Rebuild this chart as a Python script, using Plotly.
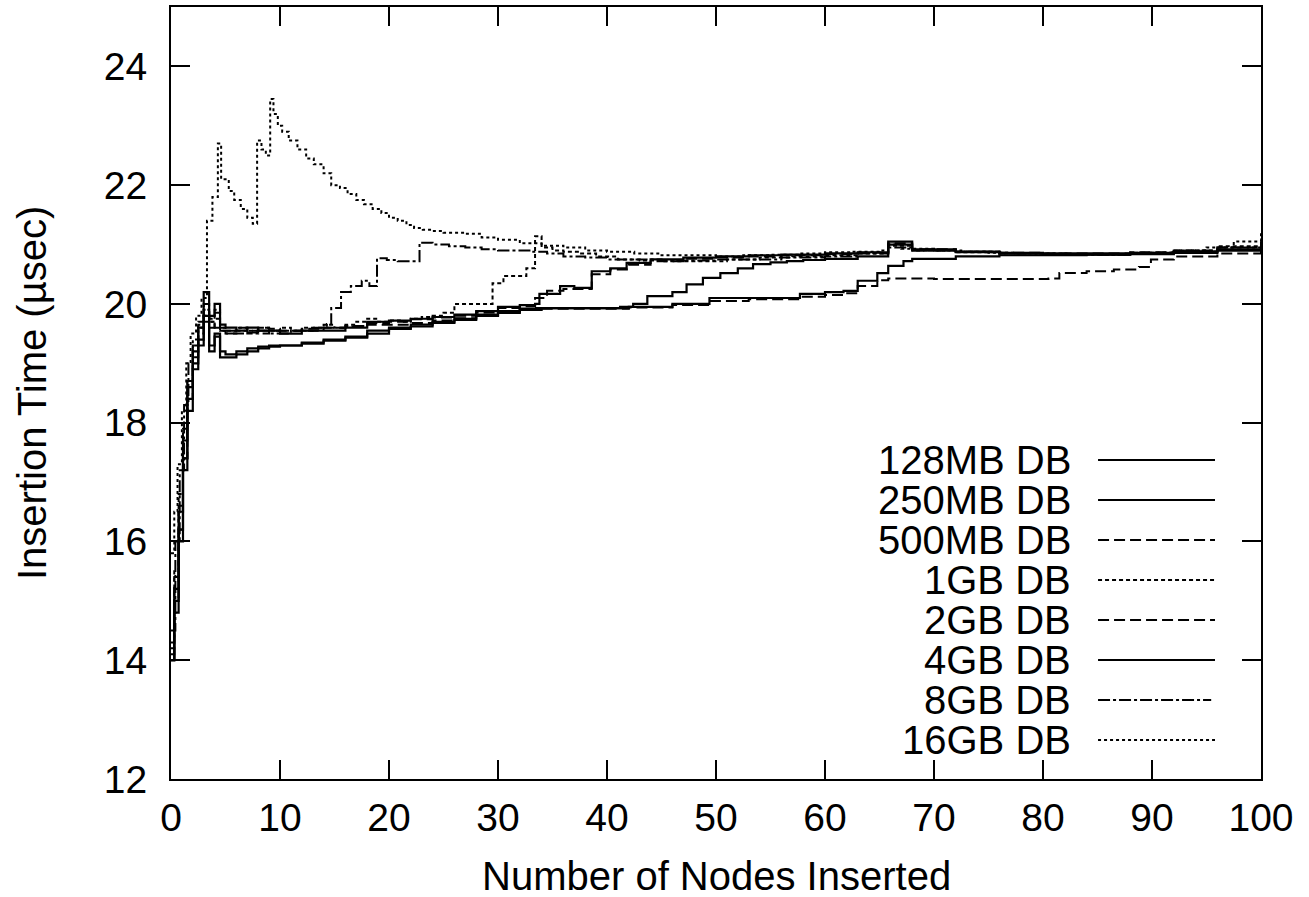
import plotly.graph_objects as go

# ---------------- data ----------------
series_names = ["128MB DB", "250MB DB", "500MB DB", "1GB DB",
                "2GB DB", "4GB DB", "8GB DB", "16GB DB"]

x_128mb = [0, 0.3, 0.7, 1.1, 1.5, 2, 2.5, 3, 3.5, 4, 4.5, 5, 6, 7, 8, 9, 10, 12, 14, 16, 18, 20,
           22, 24, 26, 28, 30, 32, 34, 38, 42, 46, 49.4, 53, 57.7, 60, 61.7, 63, 64.8, 65.8, 67.2,
           68, 72, 76, 80, 84, 88, 92, 96, 100]
y_128mb = [14.0, 14.8, 16.0, 17.2, 18.2, 18.9, 19.3, 19.7, 19.2, 19.45, 19.1, 19.1, 19.15, 19.2,
           19.25, 19.28, 19.3, 19.33, 19.38, 19.43, 19.5, 19.58, 19.62, 19.68, 19.73, 19.8, 19.85,
           19.9, 19.93, 19.93, 19.95, 20.0, 20.1, 20.1, 20.17, 20.2, 20.22, 20.39, 20.52, 20.64,
           20.72, 20.76, 20.8, 20.82, 20.82, 20.83, 20.85, 20.88, 20.92, 20.97]

x_250mb = [0, 0.3, 0.7, 1.1, 1.5, 2, 2.5, 3, 3.5, 4, 4.5, 5, 6, 7, 8, 9, 10, 12, 14, 16, 18, 20,
           22, 24, 26, 28, 30, 32, 33.5, 36, 38, 41.2, 42.4, 43.7, 46, 47.3, 48.8, 50.4, 52, 53.4,
           55, 56.5, 58, 60, 63, 65.8, 68, 72, 76, 80, 84, 88, 92, 96, 100]
y_250mb = [14.0, 15.0, 16.2, 17.4, 18.4, 19.0, 19.4, 19.8, 19.3, 19.5, 19.2, 19.15, 19.2, 19.25,
           19.28, 19.3, 19.3, 19.35, 19.4, 19.45, 19.55, 19.6, 19.65, 19.7, 19.75, 19.82, 19.88,
           19.92, 19.93, 19.93, 19.93, 19.95, 20.0, 20.13, 20.2, 20.33, 20.44, 20.52, 20.6, 20.67,
           20.7, 20.72, 20.74, 20.76, 20.8, 21.0, 20.9, 20.87, 20.85, 20.83, 20.83, 20.84, 20.86,
           20.9, 20.95]

x_500mb = [0, 0.3, 0.7, 1.1, 1.5, 2, 2.5, 3, 3.5, 4, 4.5, 5, 6, 7, 8, 9, 10, 12, 14, 16, 18, 20,
           22, 24, 26, 28, 30, 32, 33.4, 34.5, 36, 38.6, 40.3, 42, 44, 47, 50, 53, 56, 60, 63,
           65.8, 68, 72, 76, 80, 84, 88, 92, 96, 100]
y_500mb = [14.3, 15.4, 16.6, 17.8, 18.7, 19.3, 19.65, 20.0, 19.75, 19.85, 19.6, 19.55, 19.6,
           19.55, 19.6, 19.58, 19.55, 19.58, 19.6, 19.63, 19.68, 19.7, 19.74, 19.77, 19.8, 19.86,
           19.93, 19.96, 20.1, 20.22, 20.25, 20.5, 20.58, 20.66, 20.72, 20.76, 20.78, 20.8, 20.82,
           20.84, 20.86, 21.02, 20.92, 20.88, 20.86, 20.85, 20.85, 20.87, 20.9, 20.95, 21.0]

x_1gb = [0, 0.3, 0.7, 1.1, 1.5, 2, 2.5, 3, 3.5, 4, 4.5, 5, 6, 7, 8, 9, 10, 11, 12, 13, 14, 15,
         16, 17, 18, 19, 20, 21, 22, 23, 24, 25, 26, 27.5, 29.5, 30.5, 31.7, 32.6, 33.4, 34, 35,
         36, 37.5, 39, 41, 43, 45, 48, 51, 54, 57, 60, 63, 65.8, 68, 72, 76, 80, 84, 88, 92,
         96, 100]
y_1gb = [14.2, 15.5, 16.8, 17.9, 18.7, 19.3, 19.6, 19.8, 19.7, 19.9, 19.6, 19.55, 19.6, 19.55,
         19.6, 19.55, 19.6, 19.55, 19.6, 19.6, 19.65, 19.6, 19.65, 19.7, 19.75, 19.7, 19.72,
         19.7, 19.75, 19.78, 19.8, 19.85, 20.0, 20.0, 20.35, 20.47, 20.47, 20.6, 21.14, 20.95,
         20.9, 20.88, 20.85, 20.8, 20.75, 20.73, 20.72, 20.72, 20.75, 20.78, 20.8, 20.82, 20.85,
         20.98, 20.9, 20.87, 20.85, 20.83, 20.84, 20.86, 20.9, 20.97, 21.1]

x_2gb = [0, 0.3, 0.7, 1.1, 1.5, 2, 2.5, 3, 3.5, 4, 4.5, 5, 6, 7, 8, 9, 10, 12, 14, 16, 18, 20,
         22, 24, 26, 28, 30, 32, 34, 38, 42, 46, 49.4, 53, 57.7, 60, 61.7, 63, 64.8, 65.8, 70,
         75, 80.5, 81.5, 84, 86.5, 88.8, 89.9, 92, 96, 100]
y_2gb = [14.1, 15.0, 16.2, 17.4, 18.4, 19.1, 19.5, 19.9, 19.6, 19.75, 19.55, 19.5, 19.5, 19.52,
         19.5, 19.55, 19.55, 19.55, 19.6, 19.62, 19.65, 19.65, 19.68, 19.72, 19.76, 19.82, 19.87,
         19.9, 19.92, 19.92, 19.94, 19.98, 20.05, 20.08, 20.12, 20.15, 20.18, 20.3, 20.4, 20.43,
         20.42, 20.42, 20.43, 20.52, 20.55, 20.58, 20.62, 20.75, 20.8, 20.85, 20.93]

x_4gb = [0, 0.3, 0.7, 1.1, 1.5, 2, 2.5, 3, 3.5, 4, 4.5, 5, 6, 7, 8, 9, 10, 12, 14, 16, 18, 20,
         22, 24, 26, 28, 30, 32, 33.4, 33.8, 35.7, 37, 38.6, 40.3, 41.8, 44, 47, 50, 53, 56, 60,
         63, 65.8, 68, 72, 76, 80, 84, 88, 92, 96, 100]
y_4gb = [14.0, 15.2, 16.5, 17.7, 18.6, 19.2, 19.6, 20.2, 19.8, 20.0, 19.65, 19.6, 19.55, 19.6,
         19.55, 19.55, 19.5, 19.55, 19.55, 19.6, 19.7, 19.72, 19.75, 19.78, 19.82, 19.88, 19.95,
         19.98, 20.0, 20.17, 20.3, 20.27, 20.55, 20.6, 20.69, 20.75, 20.78, 20.8, 20.82, 20.83,
         20.85, 20.87, 21.05, 20.92, 20.88, 20.86, 20.85, 20.85, 20.86, 20.88, 20.9, 20.95]

x_8gb = [0, 0.4, 0.8, 1.2, 1.6, 2.0, 2.5, 3.0, 3.5, 4.0, 4.5, 5.0, 6.0, 7.0, 8.0, 9.0, 10.0,
         11.0, 12.0, 13.0, 14.3, 14.7, 15.6, 16.5, 17.5, 18.2, 18.9, 19.8, 20.8, 21.8, 22.8, 24,
         25.5, 27, 28.5, 30, 31.5, 33, 34.5, 36, 38, 40, 42, 45, 48, 50, 53, 56, 60, 63, 65.8,
         68, 72, 76, 80, 84, 88, 92, 96, 100]
y_8gb = [14.5, 16.0, 17.2, 18.3, 19.0, 19.4, 19.7, 19.9, 19.7, 19.6, 19.55, 19.5, 19.55, 19.5,
         19.55, 19.5, 19.5, 19.55, 19.55, 19.6, 19.66, 19.93, 20.2, 20.3, 20.39, 20.3, 20.77,
         20.74, 20.72, 20.72, 21.03, 21.0, 20.97, 20.95, 20.92, 20.9, 20.9, 20.88, 20.85, 20.8,
         20.78, 20.75, 20.75, 20.73, 20.73, 20.75, 20.75, 20.78, 20.8, 20.85, 20.95, 20.9, 20.88,
         20.85, 20.83, 20.83, 20.84, 20.88, 20.95, 21.05]

x_16gb = [0, 0.3, 0.6, 1.0, 1.4, 1.8, 2.3, 2.8, 3.3, 3.8, 4.3, 4.6, 5.3, 5.8, 6.4, 7.0, 7.5,
          7.9, 8.3, 8.7, 9.1, 9.4, 9.8, 10.2, 10.8, 11.6, 12.4, 13.1, 14.0, 14.7, 15.5, 16.2,
          17.0, 17.7, 18.5, 19.3, 20.0, 20.8, 21.6, 22.3, 23.1, 23.9, 25.0, 26.9, 28.5, 30.0,
          32.0, 34.0, 36.0, 38.0, 40.0, 42.5, 45.0, 47.5, 50.0, 52.5, 55.0, 57.5, 60.0, 62.5,
          65.0, 65.8, 67.0, 70.0, 72.5, 75.0, 77.5, 80.0, 82.5, 85.0, 87.5, 90.0, 92.5, 95.0,
          97.5, 100]
y_16gb = [15.8, 16.5, 17.3, 18.2, 19.0, 19.5, 19.8, 20.1, 21.4, 21.8, 22.7, 22.1, 21.9, 21.75,
          21.6, 21.45, 21.35, 22.75, 22.6, 22.5, 23.45, 23.2, 23.0, 22.9, 22.75, 22.6, 22.45,
          22.35, 22.2, 22.0, 21.95, 21.85, 21.75, 21.68, 21.6, 21.53, 21.45, 21.4, 21.33, 21.28,
          21.25, 21.23, 21.2, 21.18, 21.12, 21.08, 21.02, 20.98, 20.95, 20.9, 20.88, 20.85,
          20.82, 20.82, 20.8, 20.82, 20.83, 20.85, 20.87, 20.88, 20.9, 21.0, 20.93, 20.9, 20.88,
          20.86, 20.85, 20.85, 20.84, 20.83, 20.84, 20.86, 20.9, 20.95, 21.05, 21.2]

x_tick_vals = [0, 10, 20, 30, 40, 50, 60, 70, 80, 90, 100]
y_tick_vals = [12, 14, 16, 18, 20, 22, 24]

# ---------------- styling ----------------
FONT = "Liberation Sans, Arial, Helvetica, sans-serif"
FS = 40
FS_TICK = 39
dashes = ["solid", "solid", "11px,5px", "4px,3px", "11px,5px", "solid", "12px,3px,3px,3px", "3px,3px"]
widths = [2.2, 2.2, 2, 2, 2, 2.2, 2, 2]

xs = [x_128mb, x_250mb, x_500mb, x_1gb, x_2gb, x_4gb, x_8gb, x_16gb]
ys = [y_128mb, y_250mb, y_500mb, y_1gb, y_2gb, y_4gb, y_8gb, y_16gb]

fig = go.Figure()
for name, xv, yv, d, w in zip(series_names, xs, ys, dashes, widths):
    fig.add_trace(go.Scatter(x=xv, y=yv, mode="lines", name=name, line_shape="hv",
                             line=dict(color="black", width=w, dash=d), showlegend=False))

# manual gnuplot-style key (text right-aligned, sample to the right)
row_y = [0.4132, 0.3614, 0.3096, 0.2578, 0.2060, 0.1541, 0.1023, 0.0505]
for i, name in enumerate(series_names):
    fig.add_annotation(x=0.8275, y=row_y[i], xref="paper", yref="paper", text=name,
                       showarrow=False, xanchor="right", yanchor="middle",
                       font=dict(family=FONT, size=FS, color="black"))
    x_end = 0.9543 if i == 6 else 0.9578
    fig.add_shape(type="line", xref="paper", yref="paper", x0=0.8505, x1=x_end,
                  y0=row_y[i], y1=row_y[i], line=dict(color="black", width=2, dash=dashes[i]))

# axis titles
fig.add_annotation(x=0.5, y=0, xref="paper", yref="paper", text="Number of Nodes Inserted",
                   showarrow=False, xanchor="center", yanchor="middle", yshift=-97,
                   font=dict(family=FONT, size=FS, color="black"))
fig.add_annotation(x=0, y=0.5, xref="paper", yref="paper", text="Insertion Time (µsec)",
                   textangle=-90, showarrow=False, xanchor="center", yanchor="middle",
                   xshift=-139, font=dict(family=FONT, size=FS, color="black"))

axis_common = dict(showline=True, linecolor="black", linewidth=2, mirror="ticks",
                   ticks="inside", ticklen=19, tickwidth=1.5, tickcolor="black",
                   showgrid=False, zeroline=False,
                   tickfont=dict(family=FONT, size=FS_TICK, color="black"))

fig.update_xaxes(range=[0, 100], tickvals=x_tick_vals, ticklabelstandoff=3, **axis_common)
fig.update_yaxes(range=[12, 25], tickvals=y_tick_vals, ticklabelstandoff=14, **axis_common)

fig.update_layout(width=1309, height=897, paper_bgcolor="white", plot_bgcolor="white",
                  margin=dict(l=171, r=48, t=7, b=118, autoexpand=False),
                  font=dict(family=FONT, size=FS, color="black"))

fig.write_html("out.html", config={"displayModeBar": False},
               post_script="document.body.style.margin='0';document.body.style.overflow='hidden';")
